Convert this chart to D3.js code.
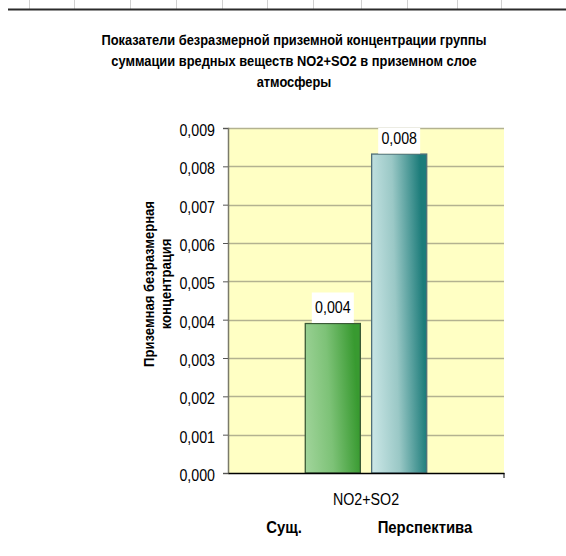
<!DOCTYPE html>
<html>
<head>
<meta charset="utf-8">
<script src="https://cdn.jsdelivr.net/npm/d3@7"></script>
<style>
  html, body { margin: 0; padding: 0; background: #fff; }
  svg { display: block; }
  text { font-family: "Liberation Sans", Arial, sans-serif; fill: #000; }
</style>
</head>
<body>
<svg id="chart" width="566" height="556"></svg>
<script>
// Chart content
const titleLines = [
  "Показатели безразмерной приземной концентрации группы",
  "суммации вредных веществ NO2+SO2 в приземном слое",
  "атмосферы"
];
const yTitleLines = ["Приземная безразмерная", "концентрация"];
const categories = ["NO2+SO2"];
const seriesNames = ["Сущ.", "Перспектива"];
const seriesValues = [[0.0039], [0.00832]];
const yTicks = [0, 0.001, 0.002, 0.003, 0.004, 0.005, 0.006, 0.007, 0.008, 0.009];
// spreadsheet column dividers above the chart
const sheetCols = [29, 74, 130, 176, 222, 267, 313, 361, 407, 457, 501];

const svg = d3.select("#chart");
const fmt = v => d3.format(".3f")(v).replace(".", ",");

// narrow-face look: squeeze each text run horizontally
function condense(sel, k) {
  sel.each(function () {
    const w = this.getComputedTextLength();
    this.setAttribute("textLength", (w * k).toFixed(1));
    this.setAttribute("lengthAdjust", "spacingAndGlyphs");
  });
}

// sheet remnant at the very top
svg.selectAll("line.col").data(sheetCols).join("line")
  .attr("x1", d => d + 0.5).attr("x2", d => d + 0.5)
  .attr("y1", 0).attr("y2", 9)
  .attr("stroke", "#d0d0d0").attr("stroke-width", 1);
svg.append("line").attr("x1", 8).attr("x2", 566).attr("y1", 9.5).attr("y2", 9.5)
  .attr("stroke", "#2b2b2b").attr("stroke-width", 2);

// title
const title = svg.append("g").selectAll("text").data(titleLines).join("text")
  .attr("x", 294).attr("y", (d, i) => 45 + i * 21)
  .attr("text-anchor", "middle")
  .attr("font-size", 15.5).attr("font-weight", "bold")
  .text(d => d);
condense(title, 0.83);

const plot = { left: 228, right: 504, top: 128, bottom: 473 };

const y = d3.scaleLinear().domain([0, 0.009]).range([plot.bottom, plot.top]);
const x0 = d3.scaleBand().domain(categories).range([plot.left, plot.right]);
const x1 = d3.scaleBand().domain(d3.range(seriesNames.length))
  .range([x0.bandwidth() * 0.28, x0.bandwidth() * 0.72]).paddingInner(0.17);

// plot area
svg.append("rect")
  .attr("x", plot.left).attr("y", plot.top)
  .attr("width", plot.right - plot.left).attr("height", plot.bottom - plot.top)
  .attr("fill", "#ffffc4");

// gridlines
svg.append("g").selectAll("line").data(yTicks.slice(1)).join("line")
  .attr("x1", plot.left).attr("x2", plot.right)
  .attr("y1", d => Math.round(y(d)) + 0.5).attr("y2", d => Math.round(y(d)) + 0.5)
  .attr("stroke", "#b3b290").attr("stroke-width", 1.5);

// gradients
const defs = svg.append("defs");
const grads = [
  { id: "g0", stops: ["#a2d59c", "#7dc277", "#389a30"], stroke: "#3a5a36" },
  { id: "g1", stops: ["#cde8e8", "#9ac8c6", "#1c7c7a"], stroke: "#4f6f78" }
];
grads.forEach(g => {
  const lg = defs.append("linearGradient").attr("id", g.id)
    .attr("x1", "0").attr("y1", "1").attr("x2", "1").attr("y2", "0.85");
  g.stops.forEach((c, i) => lg.append("stop")
    .attr("offset", i / (g.stops.length - 1)).attr("stop-color", c));
});
defs.append("clipPath").attr("id", "plotClip").append("rect")
  .attr("x", plot.left).attr("y", plot.top)
  .attr("width", plot.right - plot.left).attr("height", plot.bottom - plot.top);

// bars
const groups = svg.append("g").selectAll("g").data(categories).join("g")
  .attr("transform", c => `translate(${x0(c)},0)`);
seriesNames.forEach((s, si) => {
  groups.append("rect")
    .attr("x", x1(si)).attr("width", x1.bandwidth())
    .attr("y", (c, ci) => y(seriesValues[si][ci]))
    .attr("height", (c, ci) => y(0) - y(seriesValues[si][ci]))
    .attr("fill", `url(#${grads[si].id})`)
    .attr("stroke", grads[si].stroke).attr("stroke-width", 1.3);
});

// value labels with white boxes
const labelLayer = svg.append("g");
seriesNames.forEach((s, si) => {
  categories.forEach((c, ci) => {
    const v = seriesValues[si][ci];
    const cx = x0(c) + x1(si) + x1.bandwidth() / 2;
    labelLayer.append("rect")
      .attr("clip-path", "url(#plotClip)")
      .attr("x", cx - 21).attr("y", y(v) - 31)
      .attr("width", 42).attr("height", 30.5)
      .attr("fill", "#fff");
    const t = labelLayer.append("text")
      .attr("x", cx).attr("y", y(v) - 10.5)
      .attr("text-anchor", "middle").attr("font-size", 16)
      .text(fmt(v));
    condense(t, 0.89);
  });
});

// y axis
const yAxis = d3.axisLeft(y).tickValues(yTicks).tickSize(5).tickPadding(8)
  .tickFormat(fmt);
const ya = svg.append("g").attr("transform", `translate(${plot.left},0)`).call(yAxis);
ya.select(".domain").attr("stroke", "#7a7a6a").attr("stroke-width", 1.5);
ya.selectAll(".tick line").attr("stroke", "#555");
const yTickText = ya.selectAll(".tick text").attr("font-size", 16).attr("dy", "0.47em")
  .attr("font-family", '"Liberation Sans", Arial, sans-serif');
condense(yTickText, 0.89);

// x axis
const xAxis = d3.axisBottom(x0).tickSize(0).tickPadding(21);
const xa = svg.append("g").attr("transform", `translate(0,${plot.bottom})`).call(xAxis);
xa.select(".domain").attr("stroke", "#000").attr("stroke-width", 1.5);
const xTickText = xa.selectAll(".tick text").attr("font-size", 16)
  .attr("font-family", '"Liberation Sans", Arial, sans-serif');
condense(xTickText, 0.89);
// small end tick at right of the category axis
svg.append("line").attr("x1", plot.right).attr("x2", plot.right)
  .attr("y1", plot.bottom).attr("y2", plot.bottom + 5).attr("stroke", "#000");

// y title
const yt = svg.append("g").attr("transform", "translate(154,284) rotate(-90)")
  .selectAll("text").data(yTitleLines).join("text")
  .attr("x", 0).attr("y", (d, i) => i * 17)
  .attr("text-anchor", "middle").attr("font-size", 15).attr("font-weight", "bold")
  .text(d => d);
condense(yt, 0.87);

// legend
const legendX = [284, 425];
const lgText = svg.append("g").selectAll("text").data(seriesNames).join("text")
  .attr("x", (d, i) => legendX[i]).attr("y", 533)
  .attr("text-anchor", "middle").attr("font-size", 16).attr("font-weight", "bold")
  .text(d => d);
condense(lgText, 0.93);
</script>
</body>
</html>
